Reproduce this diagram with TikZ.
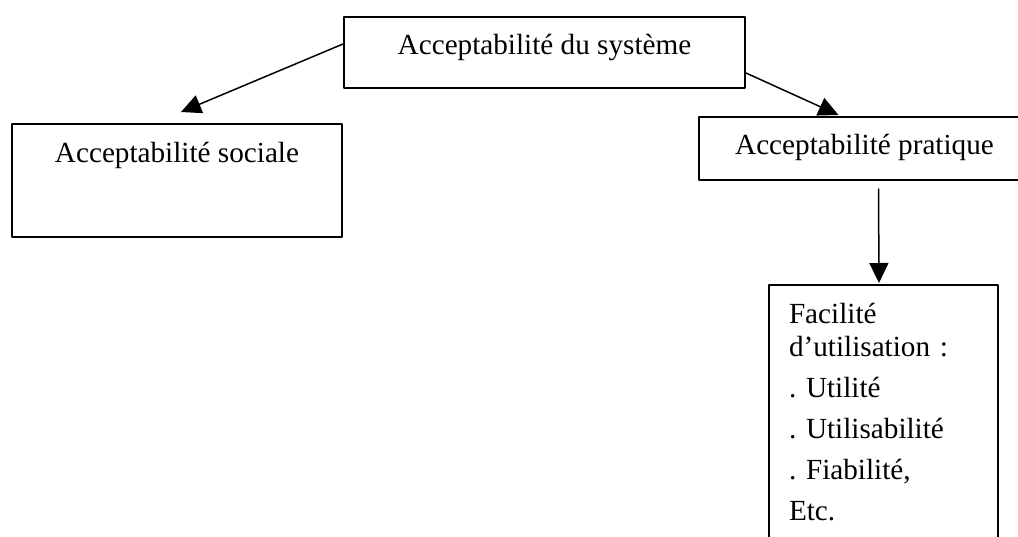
\documentclass[tikz,border=0pt]{standalone}
\usepackage{fontspec}
\setmainfont{Liberation Serif}
\usetikzlibrary{arrows.meta,positioning}

\tikzset{
	box/.style={draw,line width=1pt,inner sep=0pt,anchor=north west,font=\fontsize{14.6}{16.5}\selectfont\frenchspacing},
	arr/.style={line width=0.75pt,-{Triangle[width=9.5pt,length=10pt]}}
}

\begin{document}
\begin{tikzpicture}[line cap=round,line join=round,x=0.5pt,y=-0.5pt]
		\clip (0,0) rectangle (1018,536);
		\node[box,minimum width=200.5pt,text height=18.5pt,text depth=17pt] (sys) at (343,16) {Acceptabilité du système};
		\node[box,minimum width=165pt,text height=19pt,text depth=37.5pt] (soc) at (11,123) {Acceptabilité sociale};
		\node[box,minimum width=165.5pt,text height=18.5pt,text depth=13pt] (prat) at (698,116) {Acceptabilité pratique};
		\node[box,text width=94.5pt,inner xsep=10pt,align=left] (fac) at (768,284)
			{\rule{0pt}{19pt}Facilité\\d’utilisation~:\\[4pt]. Utilité\\[4pt]. Utilisabilité\\[4pt]. Fiabilité,\\[4pt]Etc.\rule[-12.5pt]{0pt}{0pt}};
		\draw[arr] ([shift={(0,-8.5)}]sys.west) -- ([shift={(4,-11)}]soc.north);
		\draw[arr] ([shift={(0,20.5)}]sys.east) -- ([shift={(-26,-1)}]prat.north);
		\draw[arr] ([shift={(14,8)}]prat.south) -- ([shift={(-4.5,-1)}]fac.north);
\end{tikzpicture}
\end{document}
